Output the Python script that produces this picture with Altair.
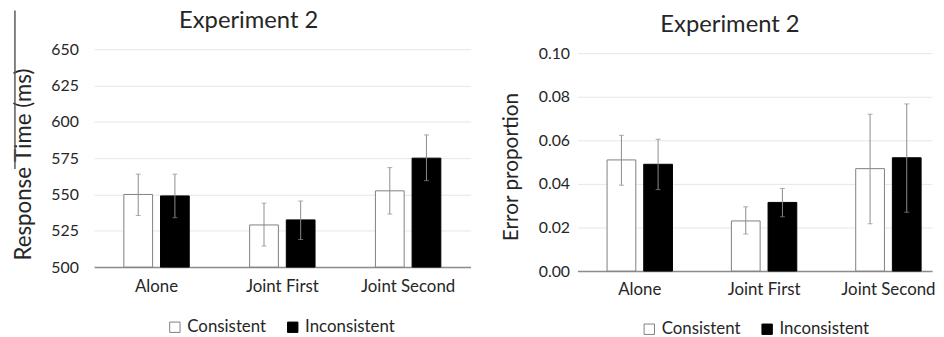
import altair as alt
import pandas as pd

conditions = ["Alone", "Joint First", "Joint Second"]
series = ["Consistent", "Inconsistent"]
panel_title = ["Experiment 2"]

# Response time (ms)
rt_consistent = [550, 529, 552.5]
rt_inconsistent = [549, 532.5, 575]
rt_cons_hi = [564, 544, 568.5]
rt_cons_lo = [535.5, 514.5, 536.5]
rt_inc_hi = [564, 545.5, 591]
rt_inc_lo = [534, 519, 559.5]

# Error proportion
er_consistent = [0.051, 0.023, 0.047]
er_inconsistent = [0.049, 0.0315, 0.052]
er_cons_hi = [0.0623, 0.0295, 0.072]
er_cons_lo = [0.0394, 0.017, 0.0217]
er_inc_hi = [0.0605, 0.0379, 0.0767]
er_inc_lo = [0.0374, 0.0249, 0.027]

rt_ticks = [500, 525, 550, 575, 600, 625, 650]
er_ticks = [0.0, 0.02, 0.04, 0.06, 0.08, 0.10]

FONT = "Lato"
TEXT = "#262626"
GRAY = "#8c8c8c"


def frame(cons, inc, cons_lo, cons_hi, inc_lo, inc_hi):
    rows = []
    for i, c in enumerate(conditions):
        rows.append(dict(condition=c, series="Consistent", value=cons[i], lo=cons_lo[i], hi=cons_hi[i]))
        rows.append(dict(condition=c, series="Inconsistent", value=inc[i], lo=inc_lo[i], hi=inc_hi[i]))
    return pd.DataFrame(rows)


def panel(df, ticks, fmt, domain, ytitle, ytitle_size, ytitle_y, width, height, y_top,
          pad_outer, pad_inner, align, xlabel_pad, ylabel_pad, ytitle_pad, title_x, title_y,
          legend_x, legend_y, edge=None):
    x = alt.X("condition:N", sort=conditions, title=None,
              scale=alt.Scale(paddingInner=pad_inner, paddingOuter=pad_outer, align=align),
              axis=alt.Axis(labelAngle=0, ticks=False, domain=True, domainColor=GRAY,
                            domainWidth=1.5, labelPadding=xlabel_pad, labelFontSize=17,
                            labelColor=TEXT, labelFont=FONT, grid=False))
    xo = alt.XOffset("series:N", sort=series,
                     scale=alt.Scale(paddingInner=0.216, paddingOuter=0))
    yscale = alt.Scale(domain=domain, zero=False, nice=False, range=[height, y_top])
    yaxis = alt.Axis(values=ticks, format=fmt, ticks=False, domain=False,
                     gridColor="#e6e6e6", gridWidth=1, labelFontSize=16,
                     labelColor=TEXT, labelFont=FONT, labelPadding=ylabel_pad,
                     labelOverlap=False,
                     titleFont=FONT, titleFontSize=ytitle_size, titleFontWeight="normal",
                     titleColor=TEXT, titlePadding=ytitle_pad, titleY=ytitle_y)
    color = alt.Color("series:N", sort=series,
                      scale=alt.Scale(domain=series, range=["#ffffff", "#000000"]),
                      legend=alt.Legend(title=None, orient="none", direction="horizontal",
                                        legendX=legend_x, legendY=legend_y,
                                        symbolType="square", symbolSize=110,
                                        symbolStrokeColor=GRAY, symbolStrokeWidth=1,
                                        labelFont=FONT, labelFontSize=17, labelColor=TEXT,
                                        labelOffset=4, columnPadding=18))
    stroke = alt.Stroke("series:N", sort=series,
                        scale=alt.Scale(domain=series, range=["#7f7f7f", "#000000"]),
                        legend=None)
    base = alt.Chart(df)
    bars = base.mark_bar(strokeWidth=1).encode(
        x=x, xOffset=xo,
        y=alt.Y("value:Q", scale=yscale, axis=yaxis, title=ytitle),
        y2=alt.Y2(datum=domain[0]),
        color=color, stroke=stroke)
    rule = base.mark_rule(color=GRAY, strokeWidth=1).encode(
        x=x, xOffset=xo, y=alt.Y("lo:Q", scale=yscale, axis=yaxis, title=ytitle), y2="hi:Q")
    cap_hi = base.mark_tick(color=GRAY, thickness=1, size=5).encode(
        x=x, xOffset=xo, y=alt.Y("hi:Q", scale=yscale, axis=yaxis, title=ytitle))
    cap_lo = base.mark_tick(color=GRAY, thickness=1, size=5).encode(
        x=x, xOffset=xo, y=alt.Y("lo:Q", scale=yscale, axis=yaxis, title=ytitle))
    title = alt.Chart(pd.DataFrame({"t": panel_title})).mark_text(
        font=FONT, fontSize=24, color=TEXT, baseline="alphabetic", align="center").encode(
        x=alt.value(title_x), y=alt.value(title_y), text="t:N")
    layers = [bars, rule, cap_hi, cap_lo, title]
    if edge is not None:
        layers.append(alt.Chart(pd.DataFrame({"k": [0]})).mark_rule(
            color="#595959", strokeWidth=1.5).encode(
            x=alt.value(edge[0]), y=alt.value(edge[1]), y2=alt.value(edge[2])))
    return alt.layer(*layers).properties(width=width, height=height)


rt_df = frame(rt_consistent, rt_inconsistent, rt_cons_lo, rt_cons_hi, rt_inc_lo, rt_inc_hi)
er_df = frame(er_consistent, er_inconsistent, er_cons_lo, er_cons_hi, er_inc_lo, er_inc_hi)

left = panel(rt_df, rt_ticks, "d", [500, 650], "Response Time (ms)", 22.5, 116, 380, 220, 0,
             0.236, 0.48, 0.5, 12, 16, 15, 156, -21, 73, 272, edge=(-80, -39, 121))
right = panel(er_df, er_ticks, ".2f", [0, 0.10], "Error proportion", 21, 118.5, 358, 224, 4,
              0.163, 0.474, 0.73, 11, 8, 17, 154, -17.5, 64, 274)

chart = alt.hconcat(left, right, spacing=30).resolve_scale(
    color="independent", stroke="independent").resolve_legend(
    color="independent", stroke="independent").configure_view(stroke=None).properties(
    padding={"left": 5, "top": 0, "right": 0, "bottom": 0})

chart.save("out.html", embed_options={"renderer": "svg", "actions": False})
